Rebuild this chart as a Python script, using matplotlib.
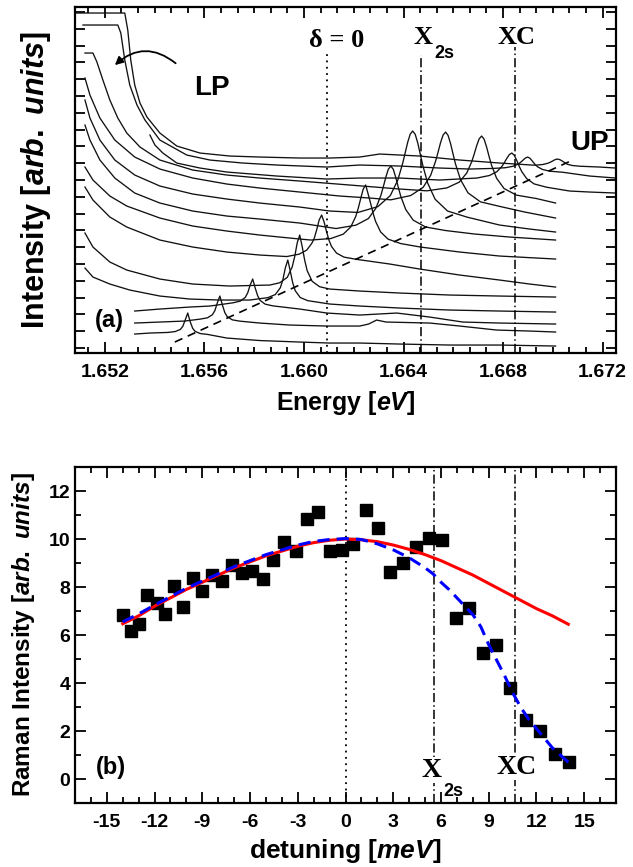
import matplotlib.pyplot as plt
from matplotlib.ticker import MultipleLocator

plt.rcParams['font.family'] = 'Liberation Sans'
plt.rcParams['font.weight'] = 'bold'
plt.rcParams['axes.labelweight'] = 'bold'
plt.rcParams['axes.unicode_minus'] = False
plt.rcParams['mathtext.fontset'] = 'custom'
plt.rcParams['mathtext.rm'] = 'Liberation Sans:bold'
plt.rcParams['mathtext.it'] = 'Liberation Sans:italic:bold'

# ---- (a) stacked PL spectra, (energy eV, intensity arb. units), top to bottom
spec_01 = [(1.65080, 340), (1.65280, 340), (1.65292, 323), (1.65304, 293), (1.65320, 268), (1.65341, 250),
           (1.65369, 236), (1.65421, 220), (1.65489, 207), (1.65582, 200), (1.65702, 197), (1.65822, 196),
           (1.65983, 195), (1.66104, 195), (1.66224, 196), (1.66304, 199), (1.66465, 197), (1.66626, 193),
           (1.66786, 190), (1.66929, 187.8), (1.66959, 188.5), (1.66979, 189.7), (1.66989, 190.7),
           (1.66999, 192), (1.67009, 193.4), (1.67019, 194), (1.67029, 193.3), (1.67039, 191.8),
           (1.67049, 190.2), (1.67059, 188.7), (1.67079, 187.5), (1.67109, 186.8), (1.67188, 186),
           (1.67252, 185)]
spec_02 = [(1.65112, 328), (1.65252, 328), (1.65264, 320), (1.65280, 293), (1.65300, 268), (1.65329, 248),
           (1.65361, 233), (1.65421, 213), (1.65529, 198), (1.65622, 193), (1.65754, 190), (1.65891, 188),
           (1.66092, 186), (1.66224, 188), (1.66385, 187), (1.66545, 185), (1.66666, 184), (1.66759, 184.6),
           (1.66809, 185.3), (1.66839, 186.7), (1.66859, 188.7), (1.66869, 190.4), (1.66879, 192.6),
           (1.66889, 194.9), (1.66899, 196), (1.66909, 194.6), (1.66919, 191.5), (1.66929, 188.5),
           (1.66939, 186.2), (1.66959, 183.5), (1.66989, 181.8), (1.67039, 180.8), (1.67148, 177),
           (1.67252, 175)]
spec_03 = [(1.65381, 218), (1.65401, 208), (1.65433, 200), (1.65489, 190), (1.65582, 185), (1.65690, 181),
           (1.65891, 177), (1.66092, 174), (1.66224, 175), (1.66385, 175), (1.66545, 173), (1.66695, 175),
           (1.66745, 177.5), (1.66775, 181.3), (1.66795, 186.5), (1.66805, 190.3), (1.66815, 194.6),
           (1.66825, 198.4), (1.66835, 200), (1.66845, 197.8), (1.66855, 192.6), (1.66865, 186.7),
           (1.66875, 181.5), (1.66895, 174.4), (1.66925, 169.1), (1.66975, 165.8), (1.67068, 162),
           (1.67148, 161), (1.67252, 160)]
spec_04 = [(1.65120, 300), (1.65152, 300), (1.65168, 291), (1.65192, 273), (1.65220, 253), (1.65252, 235),
           (1.65288, 220), (1.65341, 206), (1.65421, 193), (1.65553, 183), (1.65690, 178), (1.65822, 175),
           (1.65983, 172), (1.66184, 168), (1.66385, 164), (1.66494, 162.2), (1.66574, 165.1),
           (1.66624, 170.9), (1.66654, 180), (1.66674, 191.2), (1.66684, 198.9), (1.66694, 207.3),
           (1.66704, 214.2), (1.66714, 217), (1.66724, 213.8), (1.66734, 205.9), (1.66744, 196.4),
           (1.66754, 187.6), (1.66774, 174.8), (1.66804, 164.5), (1.66854, 157.9), (1.66934, 154.5),
           (1.67011, 150)]
spec_05 = [(1.65120, 275), (1.65140, 258), (1.65180, 235), (1.65240, 213), (1.65320, 196), (1.65421, 184),
           (1.65553, 175), (1.65690, 169), (1.65822, 165), (1.65983, 161), (1.66144, 157), (1.66264, 155),
           (1.66349, 153.2), (1.66429, 157.5), (1.66479, 165.7), (1.66509, 177.7), (1.66529, 191.9),
           (1.66539, 201), (1.66549, 210.5), (1.66559, 218), (1.66569, 221), (1.66579, 217.7),
           (1.66589, 209.5), (1.66599, 199.1), (1.66609, 189), (1.66629, 173.4), (1.66659, 160.2),
           (1.66709, 151.2), (1.66789, 146.5), (1.66887, 141), (1.67011, 135)]
spec_06 = [(1.65120, 253), (1.65140, 235), (1.65180, 213), (1.65240, 193), (1.65320, 178), (1.65421, 167),
           (1.65553, 159), (1.65690, 154), (1.65822, 150), (1.65983, 146), (1.66104, 142), (1.66217, 140.6),
           (1.66297, 146.4), (1.66347, 157.5), (1.66377, 172.9), (1.66397, 190), (1.66407, 200.5),
           (1.66417, 210.9), (1.66427, 218.9), (1.66437, 222), (1.66447, 218.7), (1.66457, 210.3),
           (1.66467, 199.3), (1.66477, 188.1), (1.66497, 170), (1.66527, 153.8), (1.66577, 142),
           (1.66657, 135.8), (1.66786, 128), (1.66907, 124), (1.67011, 121)]
spec_07 = [(1.65120, 228), (1.65140, 213), (1.65180, 193), (1.65240, 175), (1.65320, 160), (1.65421, 150),
           (1.65553, 142), (1.65690, 137), (1.65822, 134), (1.65983, 130), (1.66129, 124.5), (1.66209, 127.9),
           (1.66259, 134.5), (1.66289, 144.8), (1.66309, 157.6), (1.66319, 166.4), (1.66329, 175.9),
           (1.66339, 183.8), (1.66349, 187), (1.66359, 183.7), (1.66369, 175.5), (1.66379, 165.8),
           (1.66389, 156.7), (1.66409, 143.5), (1.66439, 132.9), (1.66489, 126), (1.66569, 122.5),
           (1.66686, 119), (1.66826, 116), (1.67011, 113)]
spec_08 = [(1.65120, 186), (1.65152, 173), (1.65220, 157), (1.65288, 147), (1.65421, 135), (1.65553, 127),
           (1.65690, 122), (1.65822, 118), (1.65983, 114), (1.66028, 113), (1.66108, 114.5), (1.66158, 118.9),
           (1.66188, 126.1), (1.66208, 136.5), (1.66218, 144.6), (1.66228, 154.5), (1.66238, 163.9),
           (1.66248, 168), (1.66258, 158.9), (1.66268, 149.5), (1.66278, 139.6), (1.66288, 131.5),
           (1.66308, 121.1), (1.66338, 113.9), (1.66388, 109.5), (1.66468, 106), (1.66626, 101),
           (1.66786, 97), (1.67011, 94)]
spec_09 = [(1.65120, 166), (1.65152, 153), (1.65220, 136), (1.65288, 126), (1.65421, 113), (1.65553, 106),
           (1.65690, 101), (1.65822, 98), (1.65931, 96.5), (1.65981, 98.9), (1.66011, 102.9), (1.66031, 109.5),
           (1.66041, 114.5), (1.66051, 123.1), (1.66061, 133), (1.66071, 138), (1.66081, 131),
           (1.66091, 121.1), (1.66101, 112.5), (1.66111, 106.5), (1.66131, 99.9), (1.66161, 95.9),
           (1.66211, 93.7), (1.66345, 89), (1.66465, 84), (1.66626, 78), (1.66786, 73), (1.66907, 69),
           (1.67011, 66)]
spec_10 = [(1.65120, 120), (1.65152, 106), (1.65220, 91), (1.65288, 83), (1.65421, 74), (1.65553, 69),
           (1.65702, 67), (1.65863, 68), (1.65903, 70.3), (1.65933, 75.7), (1.65953, 86.3), (1.65963, 96.7),
           (1.65973, 110.3), (1.65983, 118), (1.65993, 106.3), (1.66003, 92.7), (1.66013, 82.3),
           (1.66033, 71.7), (1.66063, 66.3), (1.66103, 64), (1.66224, 62), (1.66385, 60), (1.66586, 58),
           (1.66786, 57), (1.67011, 56)]
spec_11 = [(1.65120, 85), (1.65152, 76), (1.65220, 69), (1.65300, 63), (1.65421, 57), (1.65541, 54),
           (1.65662, 53), (1.65782, 53), (1.65855, 55.4), (1.65885, 58.5), (1.65905, 65.3), (1.65915, 73),
           (1.65925, 85), (1.65935, 93), (1.65945, 82), (1.65955, 70), (1.65965, 62.3), (1.65985, 55.5),
           (1.66015, 52.4), (1.66104, 49), (1.66224, 47), (1.66385, 45), (1.66586, 43), (1.66786, 42),
           (1.67011, 41)]
spec_12 = [(1.65320, 42), (1.65421, 44), (1.65541, 46), (1.65622, 47), (1.65714, 50.2), (1.65744, 51.9),
           (1.65764, 55.6), (1.65774, 60.2), (1.65784, 68.1), (1.65794, 74), (1.65804, 65.1), (1.65814, 57.2),
           (1.65824, 52.6), (1.65844, 48.9), (1.65874, 47.2), (1.65983, 44), (1.66092, 40), (1.66224, 38),
           (1.66373, 40), (1.66505, 36), (1.66638, 31), (1.66786, 30), (1.67011, 29)]
spec_13 = [(1.65320, 30), (1.65421, 31), (1.65521, 32), (1.65582, 33.9), (1.65612, 35.2), (1.65632, 38.3),
           (1.65642, 42.4), (1.65652, 50.3), (1.65662, 57), (1.65672, 48.3), (1.65682, 40.4), (1.65692, 36.3),
           (1.65712, 33.2), (1.65742, 31.9), (1.65822, 30), (1.65943, 28), (1.66092, 27), (1.66224, 27),
           (1.66260, 29), (1.66292, 33), (1.66330, 31), (1.66505, 30), (1.66626, 27), (1.66774, 23),
           (1.66907, 22), (1.67011, 21)]
spec_14 = [(1.65320, 19), (1.65381, 20), (1.65453, 20.6), (1.65483, 21.5), (1.65503, 23.6), (1.65513, 26.6),
           (1.65523, 33.2), (1.65533, 40), (1.65543, 31.2), (1.65553, 24.6), (1.65563, 21.6), (1.65583, 19.5),
           (1.65613, 18.6), (1.65690, 15), (1.65822, 12.5), (1.65983, 11), (1.66104, 10), (1.66224, 10),
           (1.66385, 9), (1.66586, 8), (1.66786, 8), (1.67011, 7)]
spectra = [spec_01, spec_02, spec_03, spec_04, spec_05, spec_06, spec_07,
           spec_08, spec_09, spec_10, spec_11, spec_12, spec_13, spec_14]

# UP guide line end points
up_line_e = [1.65481, 1.67080]
up_line_i = [11, 193]

# marker energies: zero detuning, X_2s, XC
e_delta0, e_x2s, e_xc = 1.66091, 1.66471, 1.66849

# ---- (b) Raman intensity vs detuning
detuning = [-14.0, -13.5, -12.96, -12.45, -11.86, -11.34, -10.78, -10.19, -9.6, -9.0,
            -8.41, -7.78, -7.16, -6.53, -5.86, -5.21, -4.54, -3.87, -3.14, -2.45,
            -1.72, -0.99, -0.25, 0.48, 1.27, 2.05, 2.82, 3.62, 4.41, 5.23,
            6.06, 6.92, 7.76, 8.64, 9.48, 10.36, 11.32, 12.2, 13.14, 14.04]
raman = [6.85, 6.15, 6.44, 7.68, 7.32, 6.88, 8.03, 7.16, 8.38, 7.82,
         8.51, 8.26, 8.93, 8.58, 8.65, 8.33, 9.12, 9.86, 9.51, 10.83,
         11.14, 9.51, 9.55, 9.79, 11.2, 10.48, 8.61, 9.0, 9.65, 10.06,
         9.97, 6.71, 7.13, 5.25, 5.59, 3.81, 2.48, 2.01, 1.03, 0.69]

fit_red_d = list(range(-14, 15))
fit_red_i = [6.47, 6.8, 7.2, 7.55, 7.9, 8.2, 8.5, 8.8, 9.05, 9.3, 9.5, 9.7, 9.85, 9.95, 10.0,
             9.97, 9.89, 9.75, 9.57, 9.35, 9.1, 8.8, 8.5, 8.15, 7.8, 7.45, 7.1, 6.8, 6.45]

fit_blue_d = [-14, -13, -12, -11, -10, -9, -8, -7, -6, -5, -4, -3, -2, -1, 0, 1, 2, 3, 4, 5,
              5.5, 6, 6.5, 7, 7.5, 8, 8.5, 9, 9.5, 10, 10.5, 11, 11.5, 12, 12.5, 13, 13.5, 14]
fit_blue_i = [6.55, 6.88, 7.25, 7.6, 7.95, 8.25, 8.55, 8.85, 9.1, 9.35, 9.55, 9.75, 9.9, 9.98, 10.02,
              9.98, 9.8, 9.55, 9.22, 8.8, 8.55, 8.2, 7.9, 7.55, 7.2, 6.85, 6.35, 5.6, 4.95, 4.3,
              3.6, 3.0, 2.5, 2.1, 1.7, 1.3, 1.0, 0.7]

d_delta0, d_x2s, d_xc = 0.0, 5.55, 10.62

fig = plt.figure(figsize=(6.33, 8.67), dpi=100)
ax1 = fig.add_axes([0.1185, 0.5928, 0.8547, 0.3991])
ax2 = fig.add_axes([0.1185, 0.0738, 0.8547, 0.3875])

dotted = (0, (1, 2.5))
dashdot = (0, (6, 2, 1, 2))

# panel (a)
for s in spectra:
    e, i = zip(*s)
    ax1.plot(e, i, color='#111111', lw=0.95)
ax1.plot(up_line_e, up_line_i, color='black', lw=1.2, ls=(0, (5, 3.5)))
ax1.axvline(e_delta0, ymax=0.867, color='black', lw=1.3, ls=dotted)
ax1.axvline(e_x2s, ymax=0.861, color='black', lw=1.1, ls=dashdot)
ax1.axvline(e_xc, ymax=0.884, color='black', lw=1.1, ls=dashdot)

ax1.text(1.66132, 313, 'δ = 0', family='Liberation Serif', weight='bold', size=19, ha='center', va='center')
ax1.text(1.66477, 316, 'X', family='Liberation Serif', weight='bold', size=19, ha='center', va='center')
ax1.text(1.66565, 300, '2s', size=13, ha='center', va='center')
ax1.text(1.66855, 316, 'XC', family='Liberation Serif', weight='bold', size=19, ha='center', va='center')
ax1.text(1.65630, 265, 'LP', size=20, ha='center', va='center')
ax1.text(1.67148, 210, 'UP', size=20, ha='center', va='center')
ax1.text(1.65220, 33, '(a)', size=17, ha='center', va='center')
ax1.annotate('', xy=(1.65232, 286), xytext=(1.65493, 288),
             arrowprops=dict(arrowstyle='-|>', connectionstyle='arc3,rad=0.45',
                             color='black', lw=1.3, mutation_scale=12))

ax1.set_xlim(1.6508, 1.67254)
ax1.set_ylim(0, 346)
ax1.set_xticks([1.652, 1.656, 1.660, 1.664, 1.668, 1.672])
ax1.set_xticklabels(['1.652', '1.656', '1.660', '1.664', '1.668', '1.672'])
ax1.xaxis.set_minor_locator(MultipleLocator(0.004 / 6))
ax1.set_yticks([5 + 16.8 * k for k in range(21)])
ax1.set_yticklabels([])
ax1.set_xlabel(r'Energy [$\mathit{eV}$]', size=18, labelpad=6)
ax1.set_ylabel(r'Intensity [$\mathit{arb.\ units}$]', size=22, labelpad=12)

# panel (b)
ax2.plot(detuning, raman, 's', color='black', ms=9, zorder=2)
ax2.plot(fit_red_d, fit_red_i, color='red', lw=2.2, zorder=3)
ax2.plot(fit_blue_d, fit_blue_i, color='blue', lw=2.2, ls=(0, (4, 2.3)), zorder=4)
ax2.axvline(d_delta0, color='black', lw=1.3, ls=dotted, zorder=1)
ax2.axvline(d_x2s, color='black', lw=1.1, ls=dashdot, zorder=1)
ax2.axvline(d_xc, color='black', lw=1.1, ls=dashdot, zorder=1)

wb = dict(facecolor='white', edgecolor='none', pad=0.5)
ax2.text(5.42, 0.37, 'X', family='Liberation Serif', weight='bold', size=20, ha='center', va='center', bbox=wb)
ax2.text(6.8, -0.5, '2s', size=13, ha='center', va='center')
ax2.text(10.75, 0.5, 'XC', family='Liberation Serif', weight='bold', size=20, ha='center', va='center', bbox=wb)
ax2.text(-14.74, 0.46, '(b)', size=17, ha='center', va='center')

ax2.set_xlim(-17, 17)
ax2.set_ylim(-1, 13)
ax2.set_xticks(range(-15, 16, 3))
ax2.xaxis.set_minor_locator(MultipleLocator(1))
ax2.set_yticks(range(0, 13, 2))
ax2.yaxis.set_minor_locator(MultipleLocator(1))
ax2.set_xlabel(r'detuning [$\mathit{meV}$]', size=19, labelpad=4)
ax2.set_ylabel(r'Raman Intensity [$\mathit{arb.\ units}$]', size=17.5, labelpad=8)

for ax in (ax1, ax2):
    for sp in ax.spines.values():
        sp.set_linewidth(1.6)
    ax.tick_params(which='both', direction='in', top=True, right=True, width=1.3, labelsize=14)
    ax.tick_params(which='major', length=8)
    ax.tick_params(which='minor', length=4)
    ax.tick_params(axis='x', pad=8)
ax1.tick_params(axis='y', which='major', length=7)

fig.savefig('out.png', dpi=100)
